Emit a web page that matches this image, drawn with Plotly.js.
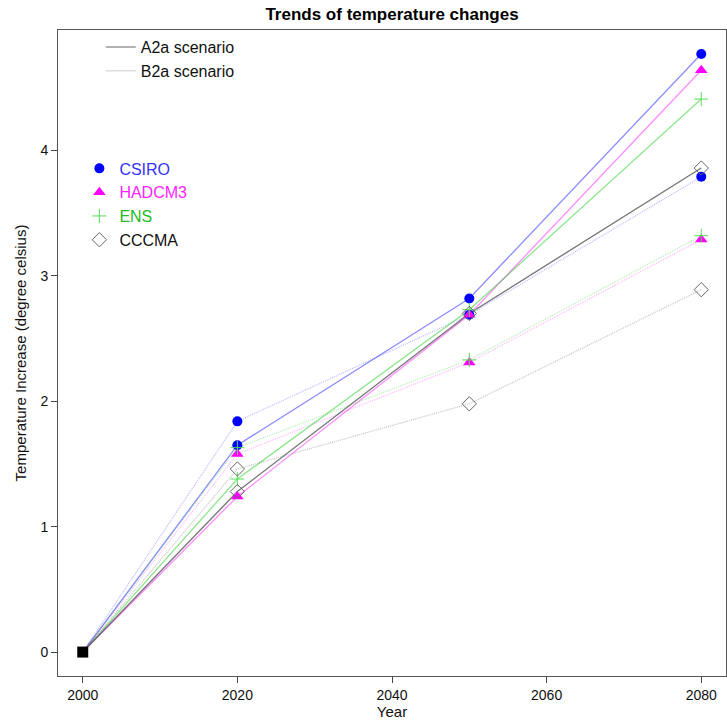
<!DOCTYPE html>
<html>
<head>
<meta charset="utf-8">
<script src="https://cdn.plot.ly/plotly-3.0.1.min.js"></script>
<style>html,body{margin:0;padding:0;background:#fff;} #chart{width:727px;height:724px;}</style>
</head>
<body>
<div id="chart"></div>
<script>
// ---- data ----
const years = [2000, 2020, 2050, 2080];
const csiroA2a  = [0, 1.65, 2.82, 4.77];
const csiroB2a  = [0, 1.84, 2.69, 3.79];
const hadcm3A2a = [0, 1.24, 2.69, 4.64];
const hadcm3B2a = [0, 1.58, 2.31, 3.29];
const ensA2a    = [0, 1.38, 2.73, 4.41];
const ensB2a    = [0, 1.63, 2.33, 3.32];
const cccmaA2a  = [0, 1.28, 2.70, 3.86];
const cccmaB2a  = [0, 1.46, 1.98, 2.89];
const models = ['CSIRO', 'HADCM3', 'ENS', 'CCCMA'];
const scenarios = ['A2a scenario', 'B2a scenario'];
const xTicks = [2000, 2020, 2040, 2060, 2080];
const yTicks = [0, 1, 2, 3, 4];

// ---- styles ----
const styles = {
  CSIRO:  {a: 'rgba(0,0,255,0.45)',   b: 'rgba(0,0,255,0.28)',   mk: {symbol:'circle', color:'#0000ff', size:10}, txt:'#3333ff'},
  HADCM3: {a: 'rgba(255,0,255,0.45)', b: 'rgba(255,0,255,0.3)', mk: {symbol:'triangle-up', color:'#ff00ff', size:11}, txt:'#ff22ff'},
  ENS:    {a: 'rgba(0,200,0,0.45)',   b: 'rgba(0,200,0,0.3)',   mk: {symbol:'cross-thin-open', color:'#55dd55', size:10, line:{width:1, color:'#55dd55'}}, txt:'#22bb22'},
  CCCMA:  {a: 'rgba(80,80,80,0.8)',  b: 'rgba(120,120,120,0.45)', mk: {symbol:'diamond-open', color:'#666666', size:11, line:{width:1, color:'#666666'}}, txt:'#111111'}
};
const series = {
  CSIRO: [csiroA2a, csiroB2a],
  HADCM3: [hadcm3A2a, hadcm3B2a],
  ENS: [ensA2a, ensB2a],
  CCCMA: [cccmaA2a, cccmaB2a]
};

const traces = [];
// lines
models.forEach(m => {
  traces.push({x: years, y: series[m][0], mode: 'lines', line: {color: styles[m].a, width: 1.3}, showlegend: false, hoverinfo: 'skip'});
  traces.push({x: years, y: series[m][1], mode: 'lines', line: {color: styles[m].b, width: 1.2, dash: '1px,1px'}, showlegend: false, hoverinfo: 'skip'});
});
// markers (excluding the 2000 origin)
models.forEach(m => {
  [0, 1].forEach(k => {
    traces.push({x: years.slice(1), y: series[m][k].slice(1), mode: 'markers', marker: styles[m].mk,
      showlegend: k === 0, name: '<span style="color:' + styles[m].txt + '">' + m + '</span>', legend: 'legend2', hoverinfo: 'skip'});
  });
});
// origin square
traces.push({x: [years[0]], y: [csiroA2a[0]], mode: 'markers', marker: {symbol: 'square', color: '#000', size: 11}, showlegend: false});
// scenario legend entries
traces.push({x: [null], y: [null], mode: 'lines', line: {color: '#999999', width: 1.5}, name: scenarios[0], legend: 'legend'});
traces.push({x: [null], y: [null], mode: 'lines', line: {color: '#dddddd', width: 1.5}, name: scenarios[1], legend: 'legend'});

const font = 'Liberation Sans, Arial, sans-serif';
const layout = {
  width: 727, height: 724,
  margin: {l: 58, r: 1, t: 30, b: 48},
  paper_bgcolor: '#fff', plot_bgcolor: '#fff',
  font: {family: font, size: 14, color: '#111'},
  title: {text: '<b>Trends of temperature changes</b>', x: 0.5, xref: 'paper', y: 0.981, yanchor: 'middle', font: {family: font, size: 17, color: '#000'}},
  xaxis: {range: [1996.8, 2083.2], tickvals: xTicks, ticktext: xTicks.map(String), ticks: 'outside', ticklen: 6, tickcolor: '#444',
    showgrid: false, zeroline: false, showline: true, mirror: true, linecolor: '#555', linewidth: 1,
    title: {text: 'Year', standoff: 4, font: {size: 15}}, tickfont: {size: 14}},
  yaxis: {range: [-0.1908, 4.9608], tickvals: yTicks, ticktext: yTicks.map(String), ticks: 'outside', ticklen: 6, tickcolor: '#444', tickangle: 0,
    showgrid: false, zeroline: false, showline: true, mirror: true, linecolor: '#555', linewidth: 1,
    title: {text: 'Temperature Increase (degree celsius)', standoff: 10, font: {size: 15}}, tickfont: {size: 14}},
  legend: {x: 0.064, y: 1.0, xanchor: 'left', yanchor: 'top', bgcolor: 'rgba(0,0,0,0)', borderwidth: 0, font: {size: 16}, tracegroupgap: 0},
  legend2: {x: 0.032, y: 0.812, xanchor: 'left', yanchor: 'top', bgcolor: 'rgba(0,0,0,0)', borderwidth: 0, font: {size: 16}, tracegroupgap: 0}
};
Plotly.newPlot('chart', traces, layout, {displayModeBar: false, staticPlot: true});
</script>
</body>
</html>
